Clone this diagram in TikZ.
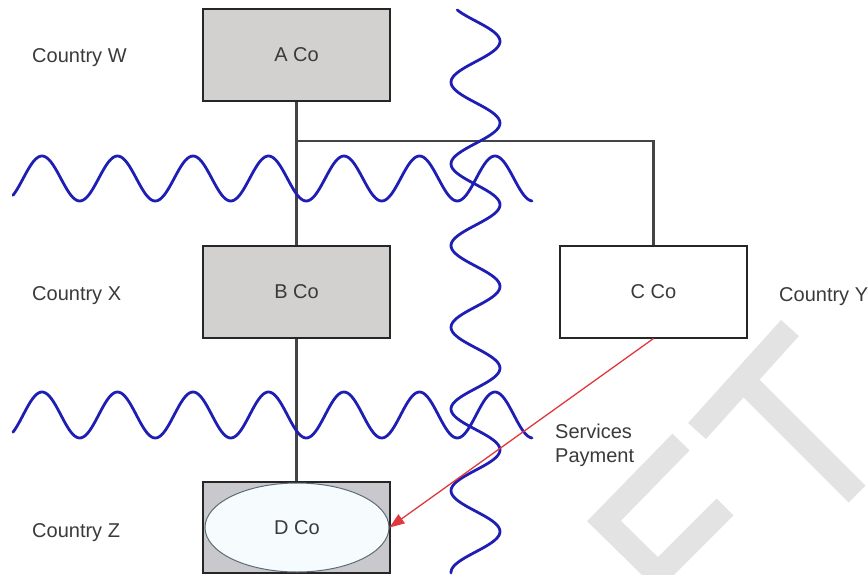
\documentclass[tikz,border=0pt]{standalone}
\usepackage{fontspec}
\setmainfont{Liberation Sans}
\usetikzlibrary{arrows.meta,shapes.geometric}
\definecolor{boxgray}{HTML}{D3D0D0}
\definecolor{dgray}{HTML}{C9C8CC}
\definecolor{txt}{HTML}{3A3A3A}
\definecolor{linegray}{HTML}{444444}
\definecolor{waveblue}{HTML}{1E1EB4}
\definecolor{payred}{HTML}{E0383C}
\definecolor{wmgray}{HTML}{E3E3E3}
\definecolor{ellfill}{HTML}{F6FBFD}
\definecolor{elldraw}{HTML}{5E6C7A}
\begin{document}
\begin{tikzpicture}[x=1pt,y=-1pt,
  font=\fontsize{20}{23}\selectfont,
  cobox/.style={draw=black!85, line width=2pt, fill=boxgray, minimum width=187pt, minimum height=92pt, text=txt, inner sep=0pt},
  lbl/.style={text=txt, inner sep=0pt},
  conn/.style={draw=linegray, line width=2.6pt},
  wave/.style={draw=waveblue, line width=2.8pt, line cap=round, line join=round},
  wm/.style={draw=wmgray, line width=24pt, line cap=butt, line join=miter},
  pay/.style={draw=payred, line width=1.3pt, -{Triangle[length=15pt,width=11pt]}}
]
\useasboundingbox (0,0) rectangle (868,575);
% watermark
\draw[wm] (790,328) -- (697,431);
\draw[wm] (743,380) -- (857,494);
\draw[wm] (681,442) -- (604,521) -- (658,574) -- (725,507);
% boxes
\node[cobox] (A) at (296.5,55) {A Co};
\node[cobox] (B) at (296.5,291.5) {B Co};
\node[cobox, fill=white] (C) at (653.5,291.5) {C Co};
\node[cobox, fill=dgray, minimum height=91pt] (Dbox) at (296.5,527.5) {};
\node[ellipse, draw=elldraw, line width=1pt, fill=ellfill, minimum width=184pt, minimum height=89pt, inner sep=0pt, text=txt] (D) at (297,527.5) {D Co};
% connectors
\coordinate (J) at (296.5,141);
\draw[conn] (A.south) -- (B.north);
\draw[conn] (J) -| (C.north);
\draw[conn] (B.south) -- (Dbox.north);
% waves
\draw[wave] plot[domain=13:532, samples=260, smooth] (\x, {178.5-22.5*cos((\x-42)/75.5*360)});
\draw[wave] plot[domain=13:532, samples=260, smooth] (\x, {415-23*cos((\x-42)/75.5*360)});
\draw[wave] plot[domain=10:573, samples=260, smooth] ({475.5-24.5*cos((\x-0.5)/81.7*360)}, \x);
% payment arrow
\draw[pay] (C.south) -- (D.east);
% labels
\node[lbl, anchor=base west] (cw) at (32,63) {Country W};
\node[lbl, anchor=base west] (cx) at (32,300) {Country X};
\node[lbl, anchor=base west] (cy) at (779,301) {Country Y};
\node[lbl, anchor=base west] (cz) at (32,537) {Country Z};
\node[lbl, anchor=base west] (sv1) at (555,438) {Services};
\node[lbl, anchor=base west] (sv2) at (555,462) {Payment};
\end{tikzpicture}
\end{document}
